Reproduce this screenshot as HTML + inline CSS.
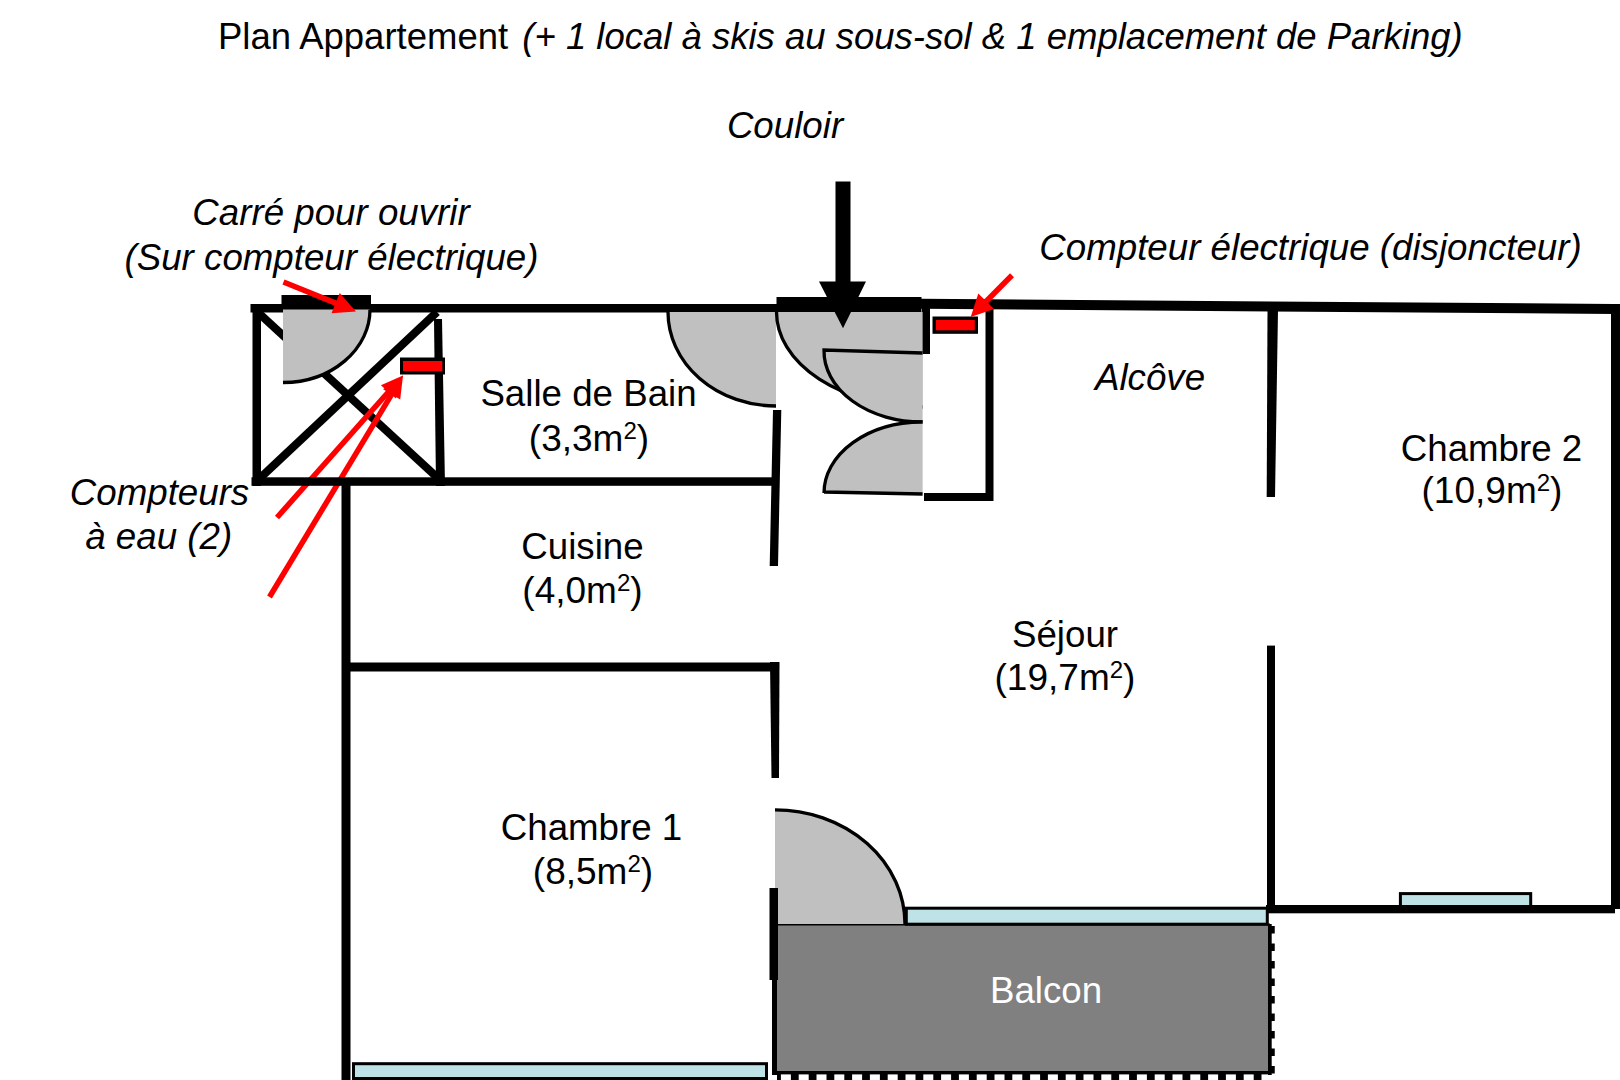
<!DOCTYPE html><html><head><meta charset="utf-8"><style>html,body{margin:0;padding:0;background:#fff;overflow:hidden}svg{display:block}</style></head><body><svg width="1620" height="1080" viewBox="0 0 1620 1080"><rect width="1620" height="1080" fill="#fff"/><line x1="257" y1="311.5" x2="440" y2="480" stroke="#000" stroke-width="8"/><line x1="258" y1="480" x2="437" y2="312" stroke="#000" stroke-width="8"/><rect x="777" y="924" width="491" height="148" fill="#808080"/><line x1="777" y1="924.5" x2="1270" y2="924.5" stroke="#000" stroke-width="2"/><rect x="1268" y="924" width="3.7" height="151" fill="#000"/><line x1="1272.5" y1="926" x2="1272.5" y2="1078" stroke="#000" stroke-width="4.5" stroke-dasharray="7.5 10"/><rect x="777" y="1071" width="494" height="3.4" fill="#000"/><line x1="1261.5" y1="1077" x2="777" y2="1077" stroke="#000" stroke-width="6" stroke-dasharray="7.8 10"/><rect x="353.5" y="1063.7" width="413" height="14.8" fill="#bfe2e6" stroke="#000" stroke-width="3"/><rect x="906.3" y="908.2" width="361" height="16" fill="#bfe2e6" stroke="#000" stroke-width="3"/><rect x="1400.4" y="893.6" width="130.3" height="14" fill="#bfe2e6" stroke="#000" stroke-width="3"/><line x1="277.0" y1="517.5" x2="389.7" y2="390.5" stroke="#ff0000" stroke-width="5.5"/><polygon points="403.0,375.5 380.9,385.3 395.9,398.6" fill="#ff0000"/><line x1="269.5" y1="597.0" x2="392.7" y2="392.6" stroke="#ff0000" stroke-width="5.5"/><polygon points="403.0,375.5 383.1,389.2 400.2,399.5" fill="#ff0000"/><path d="M775,809.8 A130,114.2 0 0 1 905,924 L775,924 Z" fill="#c0c0c0"/><path d="M775,809.8 A130,114.2 0 0 1 905,924" fill="none" stroke="#000" stroke-width="3.3"/><g fill="#000"><rect x="250.5" y="304" width="527" height="8.5"/><rect x="281.5" y="295" width="89.5" height="14.5"/><rect x="776.5" y="297" width="145" height="15.8"/><polygon points="921,298.8 1614.5,304 1614.5,314 921,308.8"/><rect x="252.5" y="304" width="8.5" height="182"/><rect x="251.5" y="477.3" width="527" height="8.5"/><polygon points="434,319 442,319 445,486 436,486"/><rect x="341.5" y="480" width="9" height="600"/><polygon points="773,410 781.3,410 778,566 769.7,566"/><rect x="350" y="662.5" width="429" height="9"/><polygon points="770,662 779.5,662 779,778 771.5,778"/><rect x="769.5" y="888" width="8.5" height="92"/><rect x="772" y="975" width="5" height="100"/><rect x="922" y="305" width="8" height="49"/><rect x="985.5" y="305" width="8" height="196"/><rect x="924" y="493" width="69" height="8"/><polygon points="1267.5,310 1278,310 1275,497 1266.7,497"/><rect x="1267" y="645.6" width="8" height="267"/><rect x="1266" y="905" width="349" height="8.3"/><rect x="1611" y="304" width="10" height="605"/></g><path d="M283,309.5 L370,309.5 A87,73 0 0 1 283,382.5 Z" fill="#c0c0c0"/><path d="M370,309.5 A87,73 0 0 1 283,382.5" fill="none" stroke="#000" stroke-width="3.3"/><path d="M668,312 A108,94 0 0 0 776,406 L776,312 Z" fill="#c0c0c0"/><path d="M668,312 A108,94 0 0 0 776,406" fill="none" stroke="#000" stroke-width="3.3"/><path d="M776.5,312 A146,95 0 0 0 922.6,407 L922.6,312 Z" fill="#c0c0c0"/><path d="M776.5,312 A146,95 0 0 0 922.6,407" fill="none" stroke="#000" stroke-width="3.3"/><path d="M824,350 L922.6,352.5 L922.6,422 A98,70 0 0 1 824,350 Z" fill="#c0c0c0"/><path d="M922.6,353 L824,350 A98,71 0 0 0 922.6,422" fill="none" stroke="#000" stroke-width="3.3"/><path d="M922.6,422 A98,71 0 0 0 824,493 L922.6,493.5 Z" fill="#c0c0c0"/><path d="M922.6,422 A98,71 0 0 0 824,493 M824,492 L922.6,494" fill="none" stroke="#000" stroke-width="3.3"/><rect x="932.5" y="316.5" width="45.5" height="17.3" fill="#000"/><rect x="935.8" y="320" width="39" height="10.3" fill="#ff0000"/><rect x="400" y="357.5" width="45" height="17" fill="#000"/><rect x="403" y="361" width="39.3" height="10.2" fill="#ff0000"/><rect x="835.5" y="181.5" width="15" height="101" fill="#000"/><polygon points="819,281.6 866,281.6 843,328.3" fill="#000"/><line x1="1012.0" y1="275.2" x2="984.8" y2="302.8" stroke="#ff0000" stroke-width="5.5"/><polygon points="970.7,317.0 994.0,309.1 978.3,293.6" fill="#ff0000"/><line x1="283.5" y1="282.0" x2="337.5" y2="303.9" stroke="#ff0000" stroke-width="5.5"/><polygon points="356.0,311.4 339.7,292.9 331.5,313.3" fill="#ff0000"/><text x="218" y="48.8" font-family="'Liberation Sans', sans-serif" font-size="36.5">Plan Appartement <tspan font-style="italic" dx="4">(+ 1 local à skis au sous-sol &amp; 1 emplacement de Parking)</tspan></text><text x="785" y="137.5" font-family="'Liberation Sans', sans-serif" font-size="36.7" font-style="italic" fill="#000" text-anchor="middle">Couloir</text><text x="331" y="225" font-family="'Liberation Sans', sans-serif" font-size="36.7" font-style="italic" fill="#000" text-anchor="middle">Carré pour ouvrir</text><text x="331.5" y="269.5" font-family="'Liberation Sans', sans-serif" font-size="36.7" font-style="italic" fill="#000" text-anchor="middle">(Sur compteur électrique)</text><text x="1310.5" y="259.5" font-family="'Liberation Sans', sans-serif" font-size="36.7" font-style="italic" fill="#000" text-anchor="middle">Compteur électrique (disjoncteur)</text><text x="588.5" y="405.5" font-family="'Liberation Sans', sans-serif" font-size="36.7" fill="#000" text-anchor="middle">Salle de Bain</text><text x="589" y="450.5" font-family="'Liberation Sans', sans-serif" font-size="37" text-anchor="middle">(3,3m<tspan font-size="24.1" dy="-12">2</tspan><tspan dy="12">)</tspan></text><text x="1150" y="390" font-family="'Liberation Sans', sans-serif" font-size="36.7" font-style="italic" fill="#000" text-anchor="middle">Alcôve</text><text x="1491.5" y="460.5" font-family="'Liberation Sans', sans-serif" font-size="36.7" fill="#000" text-anchor="middle">Chambre 2</text><text x="1492" y="502.5" font-family="'Liberation Sans', sans-serif" font-size="37" text-anchor="middle">(10,9m<tspan font-size="24.1" dy="-12">2</tspan><tspan dy="12">)</tspan></text><text x="159.5" y="505" font-family="'Liberation Sans', sans-serif" font-size="36.7" font-style="italic" fill="#000" text-anchor="middle">Compteurs</text><text x="158.7" y="549" font-family="'Liberation Sans', sans-serif" font-size="36.7" font-style="italic" fill="#000" text-anchor="middle">à eau (2)</text><text x="582.5" y="558.5" font-family="'Liberation Sans', sans-serif" font-size="36.7" fill="#000" text-anchor="middle">Cuisine</text><text x="582.5" y="603" font-family="'Liberation Sans', sans-serif" font-size="37" text-anchor="middle">(4,0m<tspan font-size="24.1" dy="-12">2</tspan><tspan dy="12">)</tspan></text><text x="1065" y="646.5" font-family="'Liberation Sans', sans-serif" font-size="36.7" fill="#000" text-anchor="middle">Séjour</text><text x="1065" y="690" font-family="'Liberation Sans', sans-serif" font-size="37" text-anchor="middle">(19,7m<tspan font-size="24.1" dy="-12">2</tspan><tspan dy="12">)</tspan></text><text x="591.5" y="839.5" font-family="'Liberation Sans', sans-serif" font-size="36.7" fill="#000" text-anchor="middle">Chambre 1</text><text x="593" y="883.5" font-family="'Liberation Sans', sans-serif" font-size="37" text-anchor="middle">(8,5m<tspan font-size="24.1" dy="-12">2</tspan><tspan dy="12">)</tspan></text><text x="1046" y="1002.5" font-family="'Liberation Sans', sans-serif" font-size="36.7" fill="#fff" text-anchor="middle">Balcon</text></svg></body></html>
